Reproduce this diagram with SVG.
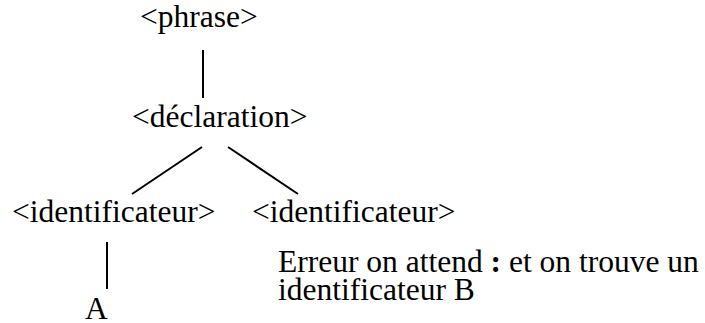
<svg xmlns="http://www.w3.org/2000/svg" width="705" height="323" viewBox="0 0 705 323">
<style>
.c line{stroke:#000;stroke-width:2;fill:none}
</style>
<rect width="705" height="323" fill="#fff"/>
<g class="c" id="connectors">
<line x1="203" y1="50" x2="203" y2="98"/>
<line x1="202" y1="147" x2="132" y2="194"/>
<line x1="228" y1="147" x2="298" y2="194"/>
<line x1="107" y1="242" x2="107" y2="289"/>
</g>
<g font-family="Liberation Serif, Times New Roman, Times, serif" font-size="31.5" fill="#000">
<g id="phrase"><text x="140" y="26.5">&lt;phrase&gt;</text></g>
<g id="declaration"><text x="132" y="127">&lt;déclaration&gt;</text></g>
<g id="ident1"><text x="12" y="222">&lt;identificateur&gt;</text></g>
<g id="ident2"><text x="252" y="222">&lt;identificateur&gt;</text></g>
<g id="a"><text x="85" y="319">A</text></g>
<g id="error"><text x="278" y="272">Erreur on attend <tspan font-weight="bold">:</tspan> et on trouve un</text><text x="278" y="300">identificateur B</text></g>
</g>
</svg>
